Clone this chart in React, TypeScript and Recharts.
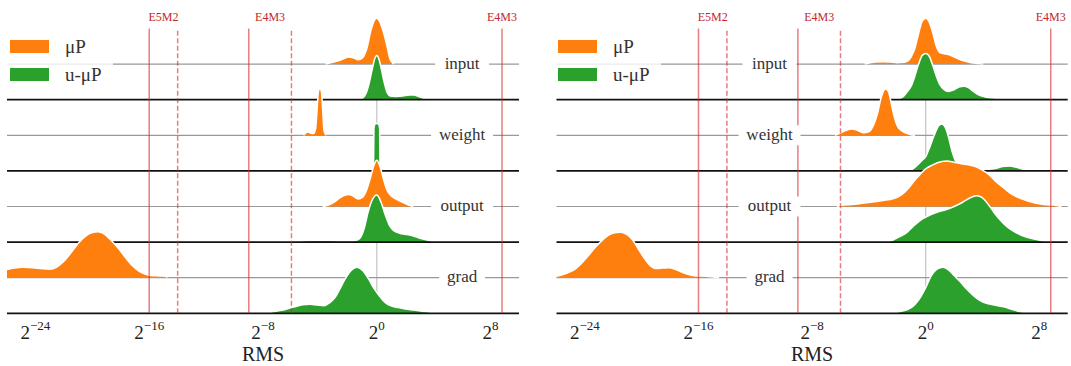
import { ComposedChart, Area, XAxis, YAxis, ReferenceLine, Scatter } from "recharts";

type Pt = [number, number];

const FONT = "Liberation Serif, DejaVu Serif, Noto Serif, serif";
const ORANGE = "#ff7f0e";
const GREEN = "#2ca02c";

const rowNames = ["input", "weight", "output", "grad"];
const xTicks = [-24, -16, -8, 0, 8];

// log2 bounds of the fp8 formats (min subnormal, min normal, max)
const formatBounds = [-16, -14, -9, -6, 8.807];
const formatKinds = ["subnormal", "normal", "subnormal", "normal", "max"];
const formatLabels = ["E5M2", "E4M3", "E4M3"];
const formatLabelX = [-15, -7.5, 8.807];

// ridge shapes: [log2 RMS, density height]
const leftInputMuP: Pt[] = [[-3.6, 0], [-3.3, 0.15], [-2.9, 0.35], [-2.5, 0.6], [-2.0, 1.0], [-1.6, 0.85], [-1.3, 0.6], [-1.0, 0.9], [-0.7, 2.2], [-0.4, 4.8], [-0.15, 6.2], [0, 6.45], [0.2, 6.0], [0.45, 4.6], [0.7, 2.7], [0.95, 0.6], [1.1, 0.2], [1.2, 0]];
const leftInputUMuP: Pt[] = [[-1.13, 0], [-0.95, 0.3], [-0.75, 0.9], [-0.55, 2.2], [-0.35, 4.0], [-0.15, 5.7], [0, 6.2], [0.15, 5.7], [0.35, 4.0], [0.55, 2.2], [0.75, 0.9], [0.95, 0.5], [1.3, 0.45], [1.8, 0.5], [2.3, 0.65], [2.6, 0.65], [3.0, 0.4], [3.4, 0.15], [3.6, 0]];
const leftWeightMuP: Pt[] = [[-5.15, 0], [-5.0, 0.3], [-4.85, 0.45], [-4.65, 0.3], [-4.45, 0.25], [-4.3, 0.9], [-4.2, 3.5], [-4.1, 6.2], [-4.0, 6.55], [-3.9, 6.2], [-3.8, 3.5], [-3.72, 0.8], [-3.65, 0.3], [-3.55, 0]];
const leftWeightUMuP: Pt[] = [[-0.23, 0], [-0.2, 6.0], [-0.1, 6.6], [0, 6.65], [0.1, 6.6], [0.2, 6.0], [0.23, 0]];
const leftOutputMuP: Pt[] = [[-3.8, 0], [-3.4, 0.2], [-3.0, 0.6], [-2.6, 1.2], [-2.2, 1.6], [-1.97, 1.7], [-1.7, 1.5], [-1.3, 1.05], [-1.0, 1.3], [-0.7, 2.4], [-0.45, 4.0], [-0.2, 5.8], [0, 6.5], [0.2, 5.8], [0.45, 4.0], [0.7, 2.4], [1.0, 1.5], [1.3, 1.1], [1.6, 0.8], [1.9, 0.5], [2.2, 0.25], [2.56, 0]];
const leftOutputUMuP: Pt[] = [[-5.55, 0], [-5.3, 0.15], [-4.5, 0.25], [-3.5, 0.25], [-2.5, 0.2], [-1.6, 0.2], [-1.3, 0.35], [-1.1, 0.8], [-0.85, 2.2], [-0.6, 4.3], [-0.3, 6.0], [0, 6.6], [0.3, 5.6], [0.6, 3.8], [0.9, 2.3], [1.2, 1.6], [1.6, 1.25], [2.0, 1.1], [2.4, 0.95], [2.8, 0.7], [3.2, 0.45], [3.6, 0.25], [4.1, 0]];
const leftGradMuP: Pt[] = [[-26, 1.15], [-25.5, 1.35], [-24.9, 1.47], [-24.2, 1.4], [-23.5, 1.25], [-23.0, 1.2], [-22.5, 1.5], [-22.0, 2.3], [-21.5, 3.5], [-21.0, 4.8], [-20.5, 5.8], [-20.0, 6.35], [-19.6, 6.45], [-19.2, 6.2], [-18.7, 5.3], [-18.2, 4.2], [-17.7, 2.9], [-17.2, 1.7], [-16.7, 0.9], [-16.3, 0.5], [-15.9, 0.3], [-15.3, 0.25], [-14.8, 0.2], [-14.75, 0]];
const leftGradUMuP: Pt[] = [[-7.8, 0], [-7.2, 0.25], [-6.5, 0.5], [-5.8, 0.9], [-5.2, 1.2], [-4.7, 1.26], [-4.2, 1.15], [-3.7, 1.07], [-3.3, 1.5], [-2.9, 2.3], [-2.6, 3.4], [-2.2, 4.9], [-1.8, 6.0], [-1.4, 6.45], [-1.0, 6.0], [-0.6, 4.9], [-0.2, 3.5], [0.2, 2.4], [0.6, 1.5], [1.0, 1.05], [1.5, 0.8], [2.0, 0.6], [2.6, 0.45], [3.2, 0.3], [3.8, 0.15], [4.2, 0]];

const rightInputMuP: Pt[] = [[-4.3, 0], [-4.0, 0.15], [-3.5, 0.28], [-3.0, 0.33], [-2.5, 0.28], [-2.0, 0.2], [-1.5, 0.25], [-1.2, 0.5], [-1.0, 1.1], [-0.75, 2.3], [-0.5, 4.3], [-0.25, 6.0], [0, 6.45], [0.25, 5.9], [0.5, 4.4], [0.75, 2.5], [1.0, 1.6], [1.3, 1.45], [1.6, 1.35], [2.0, 1.0], [2.4, 0.65], [2.8, 0.38], [3.2, 0.2], [3.7, 0.08], [4.05, 0]];
const rightInputUMuP: Pt[] = [[-2.05, 0], [-1.8, 0.2], [-1.55, 0.5], [-1.3, 1.1], [-1.0, 2.0], [-0.75, 3.4], [-0.5, 5.0], [-0.25, 6.2], [0, 6.5], [0.25, 6.1], [0.5, 4.8], [0.75, 3.3], [1.0, 2.1], [1.3, 1.4], [1.6, 1.16], [2.0, 1.4], [2.4, 1.8], [2.7, 1.87], [3.0, 1.7], [3.4, 1.1], [3.8, 0.6], [4.3, 0.35], [4.8, 0.22], [5.4, 0.12], [5.95, 0]];
const rightWeightMuP: Pt[] = [[-6.4, 0], [-6.1, 0.25], [-5.7, 0.6], [-5.2, 0.9], [-4.8, 0.7], [-4.4, 0.35], [-4.0, 0.5], [-3.7, 1.3], [-3.4, 3.0], [-3.15, 5.2], [-2.95, 6.3], [-2.8, 6.5], [-2.6, 6.0], [-2.4, 4.2], [-2.2, 2.5], [-2.0, 1.3], [-1.7, 0.65], [-1.4, 0.3], [-1.1, 0.12], [-0.75, 0]];
const rightWeightUMuP: Pt[] = [[-1.22, 0], [-0.9, 0.3], [-0.6, 0.8], [-0.3, 1.4], [0, 2.0], [0.3, 3.4], [0.6, 5.0], [0.9, 6.3], [1.13, 6.6], [1.35, 6.2], [1.6, 4.8], [1.85, 2.8], [2.1, 1.4], [2.5, 0.6], [3.0, 0.3], [3.6, 0.2], [4.2, 0.2], [4.8, 0.3], [5.4, 0.6], [5.9, 0.7], [6.4, 0.5], [6.8, 0.25], [7.2, 0]];
const rightOutputMuP: Pt[] = [[-6.25, 0], [-6.0, 0.15], [-5.0, 0.3], [-4.0, 0.55], [-3.0, 0.85], [-2.3, 1.1], [-2.0, 1.3], [-1.6, 1.8], [-1.2, 2.6], [-0.8, 3.6], [-0.4, 4.5], [0.0, 5.3], [0.5, 5.85], [1.0, 6.25], [1.5, 6.4], [2.0, 6.2], [2.5, 6.0], [3.0, 5.85], [3.5, 5.6], [4.0, 5.1], [4.5, 4.4], [5.0, 3.4], [5.5, 2.6], [6.0, 1.8], [6.5, 1.3], [7.0, 0.9], [7.5, 0.6], [8.0, 0.4], [8.5, 0.25], [9.0, 0.2], [9.55, 0]];
const rightOutputUMuP: Pt[] = [[-2.65, 0], [-2.3, 0.3], [-2.0, 0.6], [-1.6, 1.0], [-1.3, 1.4], [-1.0, 2.0], [-0.6, 2.7], [-0.2, 3.3], [0.3, 3.8], [0.8, 4.2], [1.5, 4.6], [2.0, 5.0], [2.6, 5.6], [3.1, 6.2], [3.6, 6.5], [4.0, 6.2], [4.4, 5.3], [4.8, 4.2], [5.2, 3.2], [5.7, 2.2], [6.2, 1.5], [6.7, 1.0], [7.2, 0.65], [7.7, 0.4], [8.2, 0.2], [8.75, 0]];
const rightGradMuP: Pt[] = [[-26, 0.2], [-25.6, 0.4], [-25.2, 0.7], [-24.8, 1.05], [-24.3, 1.9], [-23.8, 3.0], [-23.3, 4.2], [-22.8, 5.2], [-22.3, 6.0], [-21.8, 6.35], [-21.45, 6.4], [-21.0, 6.0], [-20.6, 5.2], [-20.2, 3.9], [-19.8, 2.7], [-19.4, 1.7], [-19.0, 1.3], [-18.5, 1.35], [-18.1, 1.4], [-17.6, 1.15], [-17.2, 0.8], [-16.7, 0.45], [-16.2, 0.25], [-15.5, 0.2], [-14.55, 0]];
const rightGradUMuP: Pt[] = [[-2.3, 0], [-2.0, 0.15], [-1.6, 0.35], [-1.2, 0.6], [-0.9, 0.95], [-0.6, 1.6], [-0.3, 2.5], [0.0, 3.6], [0.4, 5.3], [0.8, 6.2], [1.2, 6.45], [1.6, 6.1], [2.0, 5.3], [2.4, 4.5], [2.8, 3.6], [3.2, 2.8], [3.6, 2.1], [4.0, 1.6], [4.5, 1.3], [5.0, 1.1], [5.5, 0.9], [6.0, 0.6], [6.5, 0.3], [7.0, 0.12], [7.7, 0]];

const leftMuP = [leftInputMuP, leftWeightMuP, leftOutputMuP, leftGradMuP];
const leftUMuP = [leftInputUMuP, leftWeightUMuP, leftOutputUMuP, leftGradUMuP];
const rightMuP = [rightInputMuP, rightWeightMuP, rightOutputMuP, rightGradMuP];
const rightUMuP = [rightInputUMuP, rightWeightUMuP, rightOutputUMuP, rightGradUMuP];

const serif = { fontFamily: FONT };

function toRidge(pts: Pt[], base: number) {
  return pts.map(([x, h]) => ({ x, hi: base + h }));
}

function PowTick(props: any) {
  const { x, y, payload } = props;
  const v = payload.value as number;
  const exp = v < 0 ? `\u2212${-v}` : `${v}`;
  return (
    <text x={x} y={y + 26} textAnchor="middle" style={serif} fontSize={19} fill="#222">
      2<tspan dy={-9} fontSize={13}>{exp}</tspan>
    </text>
  );
}

function RowLabel(props: any) {
  const { cx, cy, payload } = props;
  const w = payload.name.length * 8 + 14;
  return (
    <g>
      <rect x={cx - w / 2} y={cy - 10} width={w} height={20} fill="#fff" />
      <text x={cx} y={cy + 4.5} textAnchor="middle" style={serif} fontSize={17} fill="#333">
        {payload.name}
      </text>
    </g>
  );
}

function FormatLabel(props: any) {
  const { cx, cy, payload } = props;
  return (
    <text x={cx} y={cy + 4} textAnchor="middle" style={serif} fontSize={12} fill="#c4262e">
      {payload.name}
    </text>
  );
}

interface PanelProps {
  muP: Pt[][];
  uMuP: Pt[][];
  labelX: number;
  width: number;
  left: number;
  right: number;
}

function Panel({ muP, uMuP, labelX, width, left, right }: PanelProps) {
  const rowLabelData = rowNames.map((name, r) => ({ x: labelX, y: 35 - 10 * r, name }));
  const formatLabelData = formatLabels.map((name, i) => ({ x: formatLabelX[i], y: 41.6, name }));
  return (
    <ComposedChart width={width} height={366} margin={{ top: 0, right, left, bottom: 12.7 }}>
      <XAxis
        type="number"
        dataKey="x"
        domain={[-26, 10]}
        ticks={xTicks}
        interval={0}
        allowDataOverflow
        axisLine={false}
        tickLine={false}
        tickSize={0}
        tickMargin={0}
        height={40}
        tick={<PowTick />}
      />
      <YAxis type="number" domain={[0, 44]} hide allowDataOverflow />
      <ReferenceLine segment={[{ x: 0, y: 0 }, { x: 0, y: 35 }]} stroke="#c8c8c8" strokeWidth={1.3} zIndex={1} />
      {rowNames.map((name, r) => {
        const mid = 35 - 10 * r;
        const base = 30 - 10 * r;
        return [
          <ReferenceLine key={`${name}-mid`} y={mid} stroke="#999" strokeWidth={1.2} zIndex={10 + 4 * r} />,
          <Area
            key={`${name}-mup`}
            data={toRidge(muP[r], mid)}
            dataKey="hi"
            baseValue={mid}
            type="monotone"
            fill={ORANGE}
            fillOpacity={1}
            stroke="#fff"
            strokeWidth={1.5}
            isAnimationActive={false}
            zIndex={11 + 4 * r}
          />,
          <Area
            key={`${name}-umup`}
            data={toRidge(uMuP[r], base)}
            dataKey="hi"
            baseValue={base}
            type="monotone"
            fill={GREEN}
            fillOpacity={1}
            stroke="#fff"
            strokeWidth={1.5}
            isAnimationActive={false}
            zIndex={12 + 4 * r}
          />,
          <ReferenceLine key={`${name}-base`} y={base} stroke="#111" strokeWidth={1.8} zIndex={13 + 4 * r} />,
        ];
      })}
      {formatBounds.map((b, i) => (
        <ReferenceLine
          key={`fmt-${i}`}
          segment={[{ x: b, y: 0 }, { x: b, y: 40 }]}
          stroke="#d62728"
          strokeOpacity={0.6}
          strokeWidth={1.5}
          strokeDasharray={formatKinds[i] === "normal" ? "5 2.5" : undefined}
          zIndex={90}
        />
      ))}
      <Scatter data={rowLabelData} dataKey="y" shape={RowLabel} isAnimationActive={false} zIndex={100} />
      <Scatter data={formatLabelData} dataKey="y" shape={FormatLabel} isAnimationActive={false} zIndex={100} />
    </ComposedChart>
  );
}

function LegendBox({ x }: { x: number }) {
  return (
    <g>
      <rect x={x - 7} y={31} width={110} height={58} rx={3} fill="#fff" fillOpacity={0.8} />
      <rect x={x} y={40} width={39} height={13} fill={ORANGE} />
      <rect x={x} y={68} width={39} height={13} fill={GREEN} />
      <text x={x + 55} y={53} style={serif} fontSize={19} fill="#333">μP</text>
      <text x={x + 55} y={81} style={serif} fontSize={19} fill="#333">u-μP</text>
    </g>
  );
}

export default function App() {
  return (
    <div style={{ position: "absolute", left: 0, top: 0, width: 1071, height: 366, background: "#fff", fontFamily: FONT }}>
      <div style={{ position: "absolute", left: 0, top: 0 }}>
        <Panel muP={leftMuP} uMuP={leftUMuP} labelX={6} width={535} left={7} right={16} />
      </div>
      <div style={{ position: "absolute", left: 535, top: 0 }}>
        <Panel muP={rightMuP} uMuP={rightUMuP} labelX={-11} width={536} left={21.5} right={3.3} />
      </div>
      <svg width={1071} height={366} style={{ position: "absolute", left: 0, top: 0, pointerEvents: "none" }}>
        <LegendBox x={10} />
        <LegendBox x={558} />
        <text x={263} y={361} textAnchor="middle" style={serif} fontSize={20} fill="#222">RMS</text>
        <text x={812} y={361} textAnchor="middle" style={serif} fontSize={20} fill="#222">RMS</text>
      </svg>
    </div>
  );
}
